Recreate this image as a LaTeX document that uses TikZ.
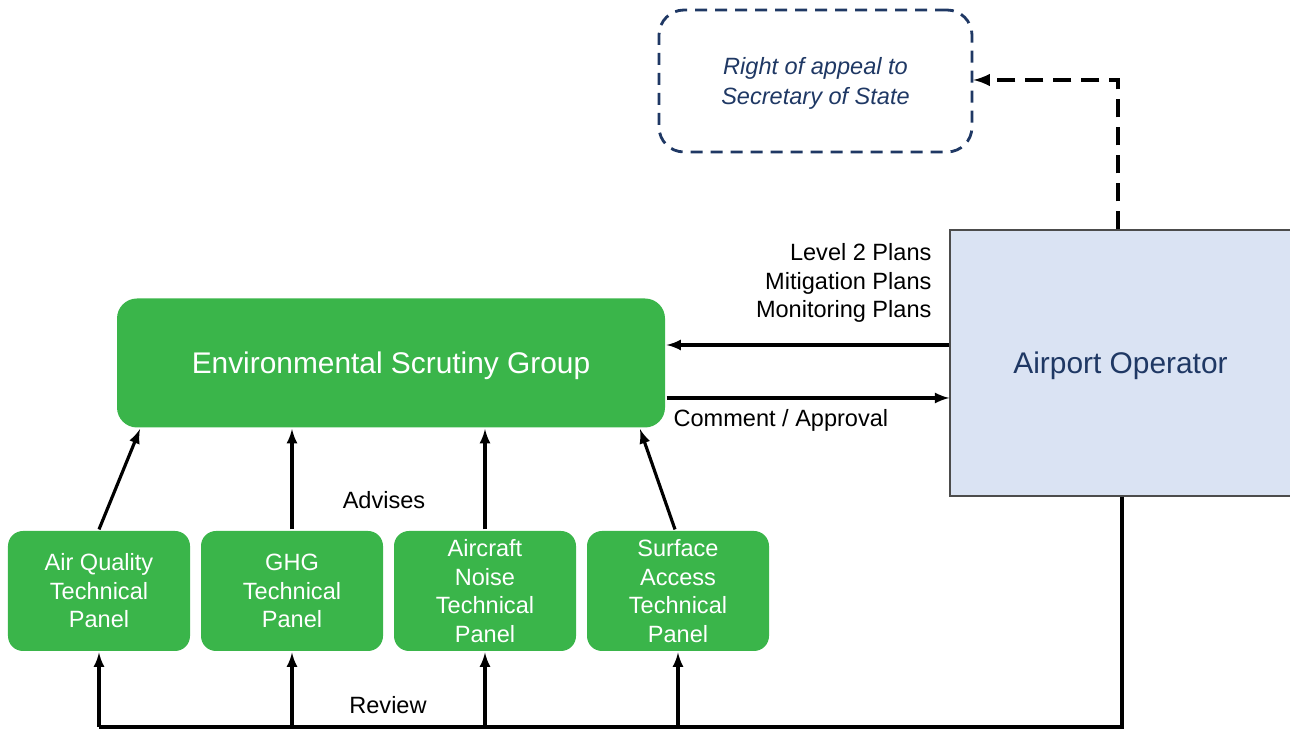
\documentclass[tikz,border=0pt]{standalone}
\usepackage{fontspec}
\setmainfont{Liberation Sans}
\usetikzlibrary{positioning}
\definecolor{esggreen}{HTML}{3AB54A}
\definecolor{aoblue}{HTML}{DAE3F3}
\definecolor{navy}{HTML}{1F3864}

\begin{document}
\begin{tikzpicture}[-latex, line width=1.8pt, node distance = 3.86cm, on grid,
group/.style ={rectangle, rounded corners=0.4cm, fill=esggreen, text=white, text depth=0pt, minimum width=10.96cm, minimum height=2.58cm, font=\fontsize{17}{20}\selectfont},
panel/.style ={rectangle, rounded corners=0.3cm, fill=esggreen, text=white, minimum width=3.64cm, minimum height=2.4cm, align=center, font=\fontsize{13.4}{16.2}\selectfont},
operator/.style ={rectangle, draw=black!70, line width=0.8pt, fill=aoblue, text=navy, text depth=0pt, minimum width=6.82cm, minimum height=5.32cm, font=\fontsize{17}{20}\selectfont},
appeal/.style ={rectangle, rounded corners=0.5cm, draw=navy, line width=1.6pt, dash pattern=on 0.24cm off 0.16cm, text=navy, text depth=0pt, minimum width=6.26cm, minimum height=2.84cm, align=center, font=\fontsize{13.4}{16.6}\selectfont\itshape},
lbl/.style ={inner sep=0pt, font=\fontsize{13.4}{16.2}\selectfont}]
\useasboundingbox (0,0) rectangle (25.8,14.58);

\node[group] (esg) at (7.82,7.32) {Environmental Scrutiny Group};
\node[panel] (aq) at (1.98,2.76) {Air Quality\\Technical\\Panel};
\node[panel] (ghg) [right = of aq] {GHG\\Technical\\Panel};
\node[panel] (an) [right = of ghg] {Aircraft\\Noise\\Technical\\Panel};
\node[panel] (sa) [right = of an] {Surface\\Access\\Technical\\Panel};
\node[operator] (ao) at (22.41,7.32) {Airport Operator};
\node[appeal] (soc) at (16.31,12.96) {Right of appeal to\\Secretary of State};

\node[lbl, anchor=east, align=right] (plans) at (18.66,8.92) {Level 2 Plans\\Mitigation Plans\\Monitoring Plans};
\node[lbl, anchor=west] (comment) at (13.44,6.17) {Comment / Approval};
\node[lbl] (advises) at (7.68,4.58) {Advises};
\node[lbl] (review) at (7.76,0.48) {Review};

% panels advise the group
\path (aq.north) edge ([xshift=-5.02cm]esg.south)
      (ghg.north) edge (ghg.north |- esg.south)
      (an.north) edge (an.north |- esg.south)
      ([xshift=-0.06cm]sa.north) edge ([xshift=4.98cm]esg.south);

% plans and approval
\path ([yshift=0.36cm]ao.west) edge ([yshift=0.36cm]esg.east)
      ([yshift=-0.7cm]esg.east) edge ([yshift=-0.7cm]ao.west);

% review loop
\coordinate (rv) at (22.44,0.04);
\draw[-] (ao.south -| rv) -- (rv) -- (rv -| aq.south);
\path (rv -| aq.south) edge (aq.south)
      (rv -| ghg.south) edge (ghg.south)
      (rv -| an.south) edge (an.south)
      (rv -| sa.south) edge (sa.south);

% appeal
\coordinate (up) at (22.36,12.98);
\draw[line width=2.2pt, dash pattern=on 0.36cm off 0.2cm] (ao.north -| up) -- (up) -- (up -| soc.east);
\end{tikzpicture}
\end{document}
